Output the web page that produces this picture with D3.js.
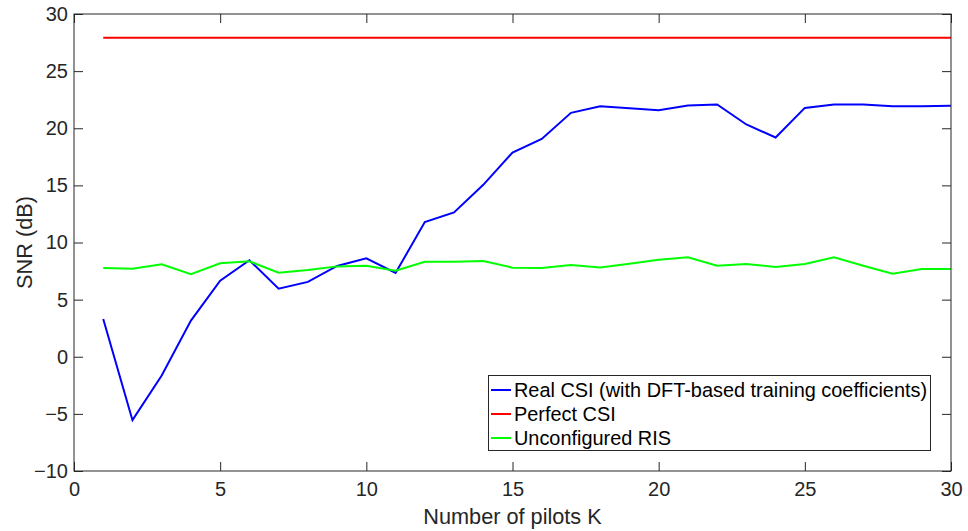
<!DOCTYPE html>
<html>
<head>
<meta charset="utf-8">
<script src="https://cdn.jsdelivr.net/npm/d3@7"></script>
<style>
  html, body { margin: 0; padding: 0; background: #fff; }
  svg { display: block; font-family: "Liberation Sans", Arial, Helvetica, sans-serif; }
</style>
</head>
<body>
<svg id="chart" width="968" height="531"></svg>
<script>
// Number of pilots K
const pilots = d3.range(1, 31);

// SNR (dB) with real CSI (DFT-based training coefficients)
const realCSI = [3.31, -5.55, -1.64, 3.16, 6.66, 8.45, 5.96, 6.55, 7.95, 8.61,
                 7.33, 11.79, 12.63, 15.05, 17.88, 19.07, 21.35, 21.93, 21.76, 21.58,
                 21.99, 22.08, 20.33, 19.19, 21.78, 22.07, 22.07, 21.93, 21.93, 21.96];

// SNR (dB) with perfect CSI
const perfectCSI = pilots.map(() => 27.93);

// SNR (dB) with an unconfigured RIS
const unconfiguredRIS = [7.77, 7.71, 8.09, 7.22, 8.18, 8.35, 7.36, 7.59, 7.91, 7.97,
                         7.53, 8.32, 8.32, 8.38, 7.80, 7.77, 8.03, 7.82, 8.15, 8.50,
                         8.70, 7.97, 8.12, 7.86, 8.12, 8.70, 7.97, 7.27, 7.68, 7.68];

const xTicks = [0, 5, 10, 15, 20, 25, 30];
const yTicks = [-10, -5, 0, 5, 10, 15, 20, 25, 30];

const seriesNames = ["Real CSI (with DFT-based training coefficients)", "Perfect CSI", "Unconfigured RIS"];
const seriesColors = ["#0000ff", "#ff0000", "#00ff00"];
const seriesData = [realCSI, perfectCSI, unconfiguredRIS];

const margin = { left: 74, right: 17, top: 14, bottom: 60 };
const W = 968, H = 531;
const iw = W - margin.left - margin.right;
const ih = H - margin.top - margin.bottom;
const axisColor = "#262626";
const tickFont = "20px";
const labelFont = "21.7px";

const svg = d3.select("#chart");
const g = svg.append("g").attr("transform", `translate(${margin.left},${margin.top})`);

const x = d3.scaleLinear().domain([0, 30]).range([0, iw]);
const y = d3.scaleLinear().domain([-10, 30]).range([ih, 0]);

// Lines
const line = d3.line().x((d, i) => x(pilots[i])).y(d => y(d));
seriesData.forEach((data, k) => {
  g.append("path")
    .datum(data)
    .attr("fill", "none")
    .attr("stroke", seriesColors[k])
    .attr("stroke-width", 2)
    .attr("stroke-linejoin", "miter")
    .attr("d", line);
});

// Axes with inward ticks, mirrored on top/right
const tickLen = 9;
function styleAxis(sel) {
  sel.select(".domain").remove();
  sel.selectAll("line").attr("stroke", axisColor).attr("stroke-width", 1);
  sel.selectAll("text").attr("fill", axisColor).style("font-size", tickFont);
}
g.append("g").attr("transform", `translate(0,${ih})`)
  .call(d3.axisBottom(x).tickValues(xTicks).tickSize(-tickLen).tickPadding(11).tickFormat(d3.format("d")))
  .call(styleAxis);
g.append("g")
  .call(d3.axisLeft(y).tickValues(yTicks).tickSize(-tickLen).tickPadding(6).tickFormat(d3.format("d")))
  .call(styleAxis);
g.append("g")
  .call(d3.axisTop(x).tickValues(xTicks).tickSize(-tickLen).tickFormat(""))
  .call(styleAxis);
g.append("g").attr("transform", `translate(${iw},0)`)
  .call(d3.axisRight(y).tickValues(yTicks).tickSize(-tickLen).tickFormat(""))
  .call(styleAxis);

// Axes box
g.append("rect")
  .attr("x", 0).attr("y", 0).attr("width", iw).attr("height", ih)
  .attr("fill", "none").attr("stroke", axisColor).attr("stroke-width", 1);

// Axis labels
svg.append("text")
  .attr("x", margin.left + iw / 2).attr("y", 524)
  .attr("text-anchor", "middle").attr("fill", axisColor)
  .style("font-size", labelFont)
  .text("Number of pilots K");
svg.append("text")
  .attr("transform", `translate(32,${margin.top + ih / 2}) rotate(-90)`)
  .attr("text-anchor", "middle").attr("fill", axisColor)
  .style("font-size", labelFont)
  .text("SNR (dB)");

// Legend
const legend = svg.append("g");
legend.append("rect")
  .attr("x", 488.5).attr("y", 375.5).attr("width", 442).attr("height", 75)
  .attr("fill", "#fff").attr("stroke", axisColor).attr("stroke-width", 1);
seriesNames.forEach((name, k) => {
  const ly = 390 + k * 24;
  legend.append("line")
    .attr("x1", 491).attr("x2", 511).attr("y1", ly).attr("y2", ly)
    .attr("stroke", seriesColors[k]).attr("stroke-width", 2);
  legend.append("text")
    .attr("x", 514).attr("y", ly).attr("dy", "0.35em")
    .attr("fill", "#000").style("font-size", "19.9px")
    .text(name);
});
</script>
</body>
</html>
